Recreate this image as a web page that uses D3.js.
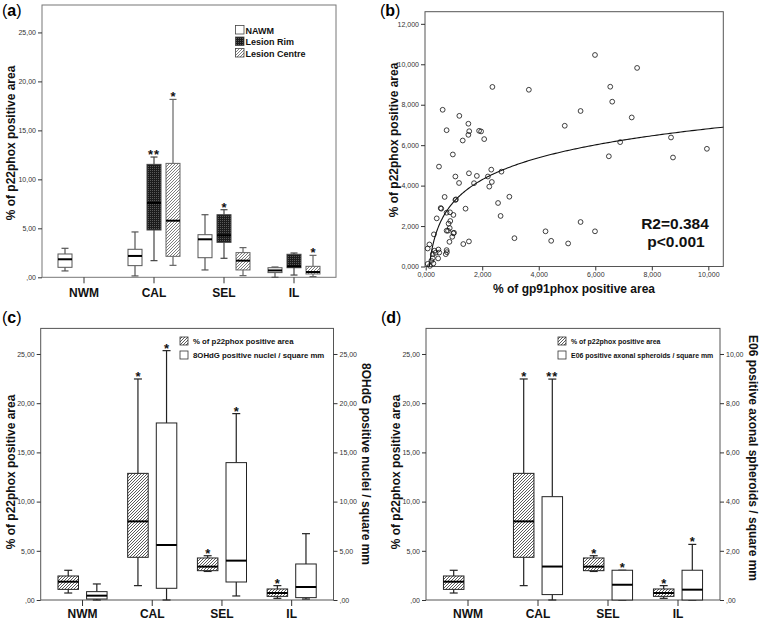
<!DOCTYPE html>
<html><head><meta charset="utf-8">
<script src="https://cdn.jsdelivr.net/npm/d3@7"></script>
<style>
body{margin:0;background:#fff}
svg{display:block}
text{font-family:"Liberation Sans",Arial,Helvetica,sans-serif}
</style>
</head><body>
<svg id="chart" width="760" height="621"></svg>
<script>
// ---------------- DATA ----------------
const categories = ["NWM", "CAL", "SEL", "IL"];
// five-number summaries: [whiskerLow, q1, median, q3, whiskerHigh]
// Panel (a)
const aNAWM   = [[0.65,1.02,1.84,2.38,2.96],[0.14,1.19,2.18,2.86,4.63],[0.75,2.0,3.88,4.35,6.39],[0.0,0.48,0.70,0.98,1.05]];
const aRim    = [null,[1.70,4.83,7.59,11.53,12.28],[1.94,3.57,4.29,6.39,6.90],[0.23,0.98,1.12,2.35,2.48]];
const aCentre = [null,[1.22,2.14,5.78,11.63,18.16],[0.17,0.75,1.70,2.52,3.03],[0.07,0.34,0.54,1.12,2.24]];
const aNAWMStars   = ["", "", "", ""];
const aRimStars    = ["", "**", "*", ""];
const aCentreStars = ["", "*", "", "*"];
const aLegend = ["NAWM", "Lesion Rim", "Lesion Centre"];
const aTicks = [0, 5, 10, 15, 20, 25];

// Panel (b) scatter
const gp91 = [5.99,7.48,2.36,3.65,6.53,6.60,0.60,5.48,1.19,7.29,1.51,4.92,0.74,1.89,1.96,1.54,1.51,8.68,2.07,1.31,6.88,9.95,0.96,6.48,8.75,0.47,2.32,2.68,1.53,1.81,1.05,2.20,1.18,1.71,2.34,2.25,2.96,0.67,2.56,1.05,1.07,0.53,0.55,1.41,0.74,0.86,0.98,0.39,2.65,5.48,0.87,0.81,0.79,0.74,0.85,0.98,1.00,4.24,5.99,0.29,0.94,0.84,3.14,4.44,5.04,1.53,1.33,0.13,0.07,0.31,0.74,0.75,0.45,0.35,0.25,0.71,0.44,0.25,0.07,0.27,0.20,0.48,0.15];
const p22  = [10.46,9.82,8.88,8.74,8.89,8.15,7.75,7.69,7.45,7.37,7.06,6.96,6.74,6.71,6.68,6.69,6.51,6.38,6.30,6.23,6.15,5.82,5.54,5.45,5.39,4.94,4.79,4.69,4.61,4.48,4.45,4.45,4.13,4.12,4.18,3.95,3.45,3.44,3.14,3.29,3.32,2.89,2.86,2.86,2.66,2.68,2.55,2.38,2.50,2.20,2.25,2.12,1.77,1.77,1.90,1.64,1.67,1.74,1.74,1.59,1.47,1.22,1.40,1.27,1.14,1.24,1.11,1.09,0.89,0.78,0.81,0.71,0.84,0.68,0.61,0.61,0.40,0.41,0.13,0.15,0.28,0.69,0.03];
const fitA = 3.21, fitB = 1.564;      // logarithmic fit y = a + b ln(x)
const fitXStart = 0.128;
const bXTicks = [0, 2, 4, 6, 8, 10];
const bYTicks = [0, 2, 4, 6, 8, 10, 12];
const bStats = ["R2=0.384", "p<0.001"];

// Panels (c) and (d): p22phox series (same in both)
const p22Box   = [[0.71,1.08,1.86,2.44,3.02],[1.46,4.34,7.99,12.87,22.46],[2.90,2.98,3.39,4.27,4.50],[0.17,0.37,0.71,1.12,1.46]];
const p22Stars = ["", "*", "*", "*"];
// Panel (c): 8OHdG positive nuclei / square mm
const ohdgBox   = [[0,0.10,0.44,0.85,1.63],[0,1.19,5.59,17.99,25.34],[0.41,1.83,4.00,13.96,18.94],[0.10,0.24,1.32,3.66,6.74]];
const ohdgStars = ["", "*", "*", ""];
// Panel (d): E06 positive axonal spheroids / square mm
const e06Box   = [null,[0,0.22,1.36,4.20,8.98],[0,0,0.62,1.21,1.21],[0,0,0.42,1.21,2.26]];
const e06Stars = ["", "**", "*", "*"];
const cdLeftTicks = [0, 5, 10, 15, 20, 25];
const cRightTicks = [0, 5, 10, 15, 20, 25];
const dRightTicks = [0, 2, 4, 6, 8, 10];

// ---------------- DRAWING ----------------
const svg = d3.select("#chart");
const defs = svg.append("defs");
function hatch(id, color, sw) {
  const p = defs.append("pattern").attr("id", id).attr("patternUnits", "userSpaceOnUse")
    .attr("width", 3).attr("height", 3);
  p.append("rect").attr("width", 3).attr("height", 3).attr("fill", "#fff");
  p.append("path").attr("d", "M-1,1 L1,-1 M0,3 L3,0 M2,4 L4,2")
    .attr("stroke", color).attr("stroke-width", sw);
}
hatch("hatchA", "#666", 0.85);
hatch("hatchC", "#4a4a4a", 0.9);
(function(){
  const p = defs.append("pattern").attr("id", "dark").attr("patternUnits", "userSpaceOnUse")
    .attr("width", 2).attr("height", 2);
  p.append("rect").attr("width", 2).attr("height", 2).attr("fill", "#1c1c1c");
  p.append("rect").attr("width", 1).attr("height", 1).attr("fill", "#5a5a5a");
})();

const fmt2 = v => v === 0 ? ",00" : d3.format(".2f")(v).replace(".", ",");
const fmt3 = v => d3.format(".3f")(v).replace(".", ",");

function panelLabel(x, y, letter) {
  const t = svg.append("text").attr("x", x).attr("y", y).attr("font-size", 16);
  t.append("tspan").text("(");
  t.append("tspan").attr("font-weight", "bold").text(letter);
  t.append("tspan").text(")");
}

function styleAxis(g) {
  g.select(".domain").remove();
  g.selectAll(".tick line").attr("stroke", "#333");
  g.selectAll(".tick text").attr("font-size", 7).attr("fill", "#333")
    .style("font-family", "'Liberation Sans', Arial, sans-serif");
}

function rotLabel(x, y, angle, text, size) {
  svg.append("text").attr("transform", `translate(${x},${y}) rotate(${angle})`)
    .attr("text-anchor", "middle").attr("font-weight", "bold").attr("font-size", size)
    .attr("fill", "#111").text(text);
}

function drawBoxes(g, data, stars, xPos, y, w, fill, stroke, cap) {
  data.forEach((d, i) => {
    if (!d) return;
    const x = xPos(i);
    const gg = g.append("g");
    gg.append("line").attr("x1", x).attr("x2", x).attr("y1", y(d[0])).attr("y2", y(d[1]))
      .attr("stroke", stroke).attr("stroke-width", 1.2);
    gg.append("line").attr("x1", x).attr("x2", x).attr("y1", y(d[3])).attr("y2", y(d[4]))
      .attr("stroke", stroke).attr("stroke-width", 1.2);
    [d[0], d[4]].forEach(v => gg.append("line").attr("x1", x - cap / 2).attr("x2", x + cap / 2)
      .attr("y1", y(v)).attr("y2", y(v)).attr("stroke", stroke).attr("stroke-width", 1.2));
    gg.append("rect").attr("x", x - w / 2).attr("y", y(d[3])).attr("width", w)
      .attr("height", Math.max(0, y(d[1]) - y(d[3]))).attr("fill", fill)
      .attr("stroke", stroke).attr("stroke-width", 1);
    gg.append("line").attr("x1", x - w / 2).attr("x2", x + w / 2).attr("y1", y(d[2])).attr("y2", y(d[2]))
      .attr("stroke", "#000").attr("stroke-width", 2);
    if (stars && stars[i]) {
      gg.append("text").attr("x", x).attr("y", y(d[4]) + 2).attr("text-anchor", "middle")
        .attr("font-size", 13).attr("font-weight", "bold").attr("fill", "#111")
        .attr("letter-spacing", stars[i].length > 1 ? 1 : 0).text(stars[i]);
    }
  });
}

function catAxis(x, yBase, labelY) {
  categories.forEach(c => {
    svg.append("line").attr("x1", x(c)).attr("x2", x(c)).attr("y1", yBase).attr("y2", yBase + 6)
      .attr("stroke", "#333");
    svg.append("text").attr("x", x(c)).attr("y", labelY).attr("text-anchor", "middle")
      .attr("font-weight", "bold").attr("font-size", 12).attr("fill", "#111").text(c);
  });
}

function frame(x0, y0, x1, y1, color) {
  svg.append("rect").attr("x", x0).attr("y", y0).attr("width", x1 - x0).attr("height", y1 - y0)
    .attr("fill", "none").attr("stroke", color).attr("stroke-width", 1);
}

// ===== Panel (a) =====
(function(){
  const L = 42, R = 336, T = 5, B = 277.3;
  const x = d3.scalePoint().domain(categories).range([L, R]).padding(0.6);
  const y = d3.scaleLinear().domain([0, 27.8]).range([B, T]);
  frame(L, T, R, B, "#777");
  const ax = svg.append("g").attr("transform", `translate(${L},0)`)
    .call(d3.axisLeft(y).tickValues(aTicks).tickFormat(fmt2).tickSize(4).tickPadding(2));
  styleAxis(ax);
  const g = svg.append("g");
  const off = 19, w = 14;
  drawBoxes(g, aNAWM, aNAWMStars, i => x(categories[i]) - off, y, w, "#fff", "#555", 7);
  drawBoxes(g, aRim, aRimStars, i => x(categories[i]), y, w, "url(#dark)", "#444", 7);
  drawBoxes(g, aCentre, aCentreStars, i => x(categories[i]) + off, y, w, "url(#hatchA)", "#666", 7);
  catAxis(x, B, 297);
  rotLabel(14.5, 143, -90, "% of p22phox positive area", 12);
  const fills = ["#fff", "url(#dark)", "url(#hatchA)"];
  aLegend.forEach((t, i) => {
    svg.append("rect").attr("x", 235.5).attr("y", 25.5 + i * 11.5).attr("width", 8.5).attr("height", 8.5)
      .attr("fill", fills[i]).attr("stroke", "#444").attr("stroke-width", 0.8);
    svg.append("text").attr("x", 245.5).attr("y", 33.5 + i * 11.5).attr("font-size", 9)
      .attr("font-weight", "bold").attr("fill", "#111").text(t);
  });
  panelLabel(2, 16, "a");
})();

// ===== Panel (b) =====
(function(){
  const L = 425, R = 723.3, T = 11.7, B = 266.5;
  const x = d3.scaleLinear().domain([0, 10.53]).range([L + 0.7, R]);
  const y = d3.scaleLinear().domain([0, 12.6]).range([B, T]);
  frame(L, T, R, B, "#555");
  const ax = svg.append("g").attr("transform", `translate(${L},0)`)
    .call(d3.axisLeft(y).tickValues(bYTicks).tickFormat(fmt3).tickSize(4).tickPadding(2));
  styleAxis(ax);
  const axx = svg.append("g").attr("transform", `translate(0,${B})`)
    .call(d3.axisBottom(x).tickValues(bXTicks).tickFormat(fmt3).tickSize(4).tickPadding(2));
  styleAxis(axx);
  svg.append("g").selectAll("circle").data(gp91.map((v, i) => [v, p22[i]])).join("circle")
    .attr("cx", d => x(d[0])).attr("cy", d => y(d[1])).attr("r", 2.4)
    .attr("fill", "none").attr("stroke", "#111").attr("stroke-width", 0.8);
  const xs = d3.range(0, 201).map(i => fitXStart + (10.53 - fitXStart) * Math.pow(i / 200, 2));
  svg.append("path").datum(xs)
    .attr("d", d3.line().x(v => x(v)).y(v => y(fitA + fitB * Math.log(v))).curve(d3.curveBasis))
    .attr("fill", "none").attr("stroke", "#111").attr("stroke-width", 1.1);
  svg.append("text").attr("x", 675).attr("y", 229).attr("text-anchor", "middle")
    .attr("font-size", 15.5).attr("font-weight", "bold").attr("fill", "#111").text(bStats[0]);
  svg.append("text").attr("x", 676).attr("y", 246.5).attr("text-anchor", "middle")
    .attr("font-size", 15.5).attr("font-weight", "bold").attr("fill", "#111").text(bStats[1]);
  svg.append("text").attr("x", 574).attr("y", 293).attr("text-anchor", "middle")
    .attr("font-size", 12).attr("font-weight", "bold").attr("fill", "#111").text("% of gp91phox positive area");
  rotLabel(397.5, 140, -90, "% of p22phox positive area", 12);
  panelLabel(380, 16, "b");
})();

// ===== Panels (c) and (d) =====
function cdPanel(opt) {
  const { L, R, T, B } = opt;
  const x = d3.scalePoint().domain(categories).range([L, R]).padding(0.6);
  const y = d3.scaleLinear().domain([0, 27.6]).range([B, T]);
  const y2 = d3.scaleLinear().domain([0, 27.6 / opt.ratio]).range([B, T]);
  frame(L, T, R, B, "#555");
  const ax = svg.append("g").attr("transform", `translate(${L},0)`)
    .call(d3.axisLeft(y).tickValues(cdLeftTicks).tickFormat(fmt2).tickSize(4).tickPadding(2));
  styleAxis(ax);
  const ax2 = svg.append("g").attr("transform", `translate(${R},0)`)
    .call(d3.axisRight(y2).tickValues(opt.rightTicks).tickFormat(fmt2).tickSize(4).tickPadding(2));
  styleAxis(ax2);
  const g = svg.append("g");
  const off = 14.3, w = 20.5;
  drawBoxes(g, p22Box, p22Stars, i => x(categories[i]) - off, y, w, "url(#hatchC)", "#222", 8);
  drawBoxes(g, opt.box, opt.stars, i => x(categories[i]) + off, y2, w, "#fff", "#222", 8);
  catAxis(x, B, 618);
  rotLabel(L - 26, 472, -90, "% of p22phox positive area", 12);
  rotLabel(opt.rightLabelX, opt.rightLabelY, 90, opt.rightLabel, 12);
  // legend
  const lx = opt.legendX;
  svg.append("rect").attr("x", lx).attr("y", 337).attr("width", 8).attr("height", 8)
    .attr("fill", "url(#hatchC)").attr("stroke", "#333").attr("stroke-width", 0.8);
  svg.append("rect").attr("x", lx).attr("y", 351).attr("width", 8).attr("height", 8)
    .attr("fill", "#fff").attr("stroke", "#333").attr("stroke-width", 0.8);
  svg.append("text").attr("x", lx + 13).attr("y", 343.5).attr("font-size", opt.legendSize)
    .attr("font-weight", "bold").attr("fill", "#111").text("% of p22phox positive area");
  svg.append("text").attr("x", lx + 13).attr("y", 357.5).attr("font-size", opt.legendSize)
    .attr("font-weight", "bold").attr("fill", "#111").text(opt.legend2);
  panelLabel(opt.labelX, 323, opt.letter);
}
cdPanel({ L: 40.7, R: 333.5, T: 328.4, B: 600, ratio: 1, rightTicks: cRightTicks,
  box: ohdgBox, stars: ohdgStars, rightLabel: "8OHdG positive nuclei / square mm",
  rightLabelX: 362, rightLabelY: 464, legendX: 180, legendSize: 7.8,
  legend2: "8OHdG positive nuclei / square mm", labelX: 2, letter: "c" });
cdPanel({ L: 426, R: 720, T: 328.4, B: 600, ratio: 2.5, rightTicks: dRightTicks,
  box: e06Box, stars: e06Stars, rightLabel: "E06 positive axonal spheroids / square mm",
  rightLabelX: 748.5, rightLabelY: 458, legendX: 558, legendSize: 6.95,
  legend2: "E06 positive axonal spheroids / square mm", labelX: 381, letter: "d" });
</script>
</body></html>
